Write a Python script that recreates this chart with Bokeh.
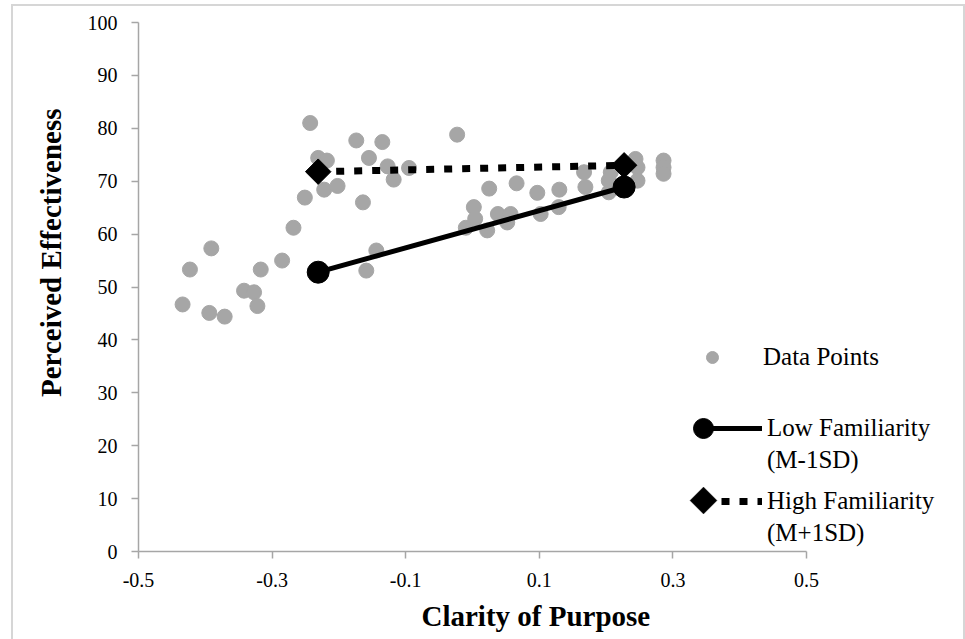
import math
from bokeh.plotting import figure
from bokeh.layouts import column
from bokeh.models import Range1d, FixedTicker, Legend, LegendItem, Title, PolyAnnotation
from bokeh.embed import file_html
from bokeh.resources import INLINE

# ---- data ----
pts_x = [-0.434, -0.423, -0.391, -0.394, -0.371, -0.342, -0.327, -0.322, -0.317,
         -0.285, -0.268, -0.251, -0.243, -0.231, -0.218, -0.222, -0.202, -0.174,
         -0.155, -0.164, -0.135, -0.144, -0.159, -0.127, -0.118, -0.095, -0.023,
         0.025, 0.066, 0.097, 0.130, 0.002, 0.004, -0.010, 0.022, 0.038, 0.057,
         0.052, 0.102, 0.129, 0.167, 0.169, 0.204, 0.204, 0.207, 0.244, 0.247,
         0.247, 0.286, 0.286, 0.286]
pts_y = [46.7, 53.3, 57.3, 45.1, 44.4, 49.3, 49.0, 46.4, 53.3,
         55.0, 61.2, 66.9, 81.0, 74.4, 73.9, 68.4, 69.1, 77.7,
         74.4, 66.0, 77.4, 56.9, 53.1, 72.8, 70.3, 72.5, 78.8,
         68.6, 69.6, 67.8, 68.4, 65.1, 62.9, 61.2, 60.7, 63.8, 63.8,
         62.2, 63.8, 65.1, 71.7, 68.9, 70.1, 67.9, 71.7, 74.2, 72.6,
         70.1, 73.9, 72.6, 71.4]
low_x = [-0.231, 0.227]
low_y = [52.8, 68.9]
high_x = [-0.231, 0.227]
high_y = [71.8, 73.0]
x_ticks = [-0.5, -0.3, -0.1, 0.1, 0.3, 0.5]
y_ticks = [0, 10, 20, 30, 40, 50, 60, 70, 80, 90, 100]

FONT = "Liberation Serif"
AXIS_GRAY = "#a6a6a6"

# page geometry: the figure sits inside a thin grey frame starting at (13, 6)
OX, OY = 13, 6
FRAME_LEFT, FRAME_TOP, FRAME_BOTTOM = 138, 22, 551
W, H = 950, 633
L = FRAME_LEFT - OX
T = FRAME_TOP - OY
B = H - (FRAME_BOTTOM - OY)
R = 15
frame_w = W - L - R
x_end = -0.5 + frame_w / 668.0   # -0.5..0.5 spans 668 px; extra room on the right for the legend

p = figure(width=W, height=H, output_backend="svg", toolbar_location=None,
           x_range=Range1d(-0.5, x_end), y_range=Range1d(0, 100),
           min_border_left=L, min_border_right=R, min_border_top=T,
           min_border_bottom=B)
p.outline_line_color = None
p.xgrid.visible = False
p.ygrid.visible = False

for ax in (p.xaxis[0], p.yaxis[0]):
    ax.axis_line_color = AXIS_GRAY
    ax.axis_line_width = 1.5
    ax.major_tick_line_color = AXIS_GRAY
    ax.major_tick_line_width = 1.5
    ax.major_tick_out = 7
    ax.major_tick_in = 0
    ax.minor_tick_line_color = None
    ax.major_label_text_font = FONT
    ax.major_label_text_font_size = "20px"
    ax.major_label_text_color = "black"
    ax.major_label_standoff = 14
p.xaxis.bounds = (-0.5, 0.5)
p.xaxis.ticker = FixedTicker(ticks=x_ticks)
p.yaxis.ticker = FixedTicker(ticks=y_ticks)
p.xaxis.major_label_overrides = {v: f"{v:g}" for v in x_ticks}

pts_r = p.scatter(pts_x, pts_y, size=15, color="#a6a6a6")
low_line = p.line(low_x, low_y, line_width=5, color="black")
high_line = p.line(high_x, high_y, line_width=7, color="black", line_dash="8 10")
low_mark = p.scatter(low_x, low_y, size=22, color="black")
high_mark = p.scatter(high_x, high_y, marker="square", angle=math.pi / 4,
                      size=18, color="black")
blank = p.line([], [], line_alpha=0)


def make_legend(items, loc, gw, gh, standoff, alpha=1.0, spacing=2):
    lg = Legend(items=items, location=loc, glyph_width=gw, glyph_height=gh,
                label_standoff=standoff, padding=0, margin=0, spacing=spacing,
                border_line_color=None, background_fill_alpha=0,
                label_text_font=FONT, label_text_font_size="25px",
                label_text_color="black", label_text_alpha=alpha)
    p.add_layout(lg, "center")
    return lg


def px_x(page_x):
    return page_x - FRAME_LEFT


def px_y(page_y):
    return FRAME_BOTTOM - page_y


# Data Points entry (marker centre ~ (712, 357))
make_legend([LegendItem(label="Data Points", renderers=[pts_r])],
            (px_x(697), px_y(372)), 30, 30, 36)
# Low familiarity: line + text, marker on the left end of the line
make_legend([LegendItem(label="Low Familiarity", renderers=[low_line]),
             LegendItem(label="(M-1SD)", renderers=[blank])],
            (px_x(703), px_y(475)), 59, 30, 5)
make_legend([LegendItem(label=" ", renderers=[low_mark])],
            (px_x(678), px_y(453)), 50, 50, 0, alpha=0)
# High familiarity: dashed line + text, diamond on the left end
make_legend([LegendItem(label="High Familiarity", renderers=[high_line]),
             LegendItem(label="(M+1SD)", renderers=[blank])],
            (px_x(703), px_y(548)), 59, 30, 5)
cx, cy, r = px_x(703), px_y(500), 13.5
p.add_layout(PolyAnnotation(xs=[cx - r, cx, cx + r, cx], ys=[cy, cy + r, cy, cy - r],
                            xs_units="screen", ys_units="screen",
                            fill_color="black", fill_alpha=1, line_color="black"))

xt = Title(text="Clarity of Purpose", align="left", offset=283, standoff=16,
           text_font=FONT, text_font_style="bold", text_font_size="29px",
           text_color="black")
p.add_layout(xt, "below")
yt = Title(text="Perceived Effectiveness", align="right", offset=86, standoff=36,
           text_font=FONT, text_font_style="bold", text_font_size="29px",
           text_color="black")
p.add_layout(yt, "left")

layout = column(p, styles={"margin-left": "11px", "margin-top": "4px",
                           "border-left": "2px solid #d6d6d6",
                           "border-top": "2px solid #d6d6d6",
                           "border-right": "2px solid #d6d6d6"})

open("out.html", "w").write(file_html(layout, INLINE))
